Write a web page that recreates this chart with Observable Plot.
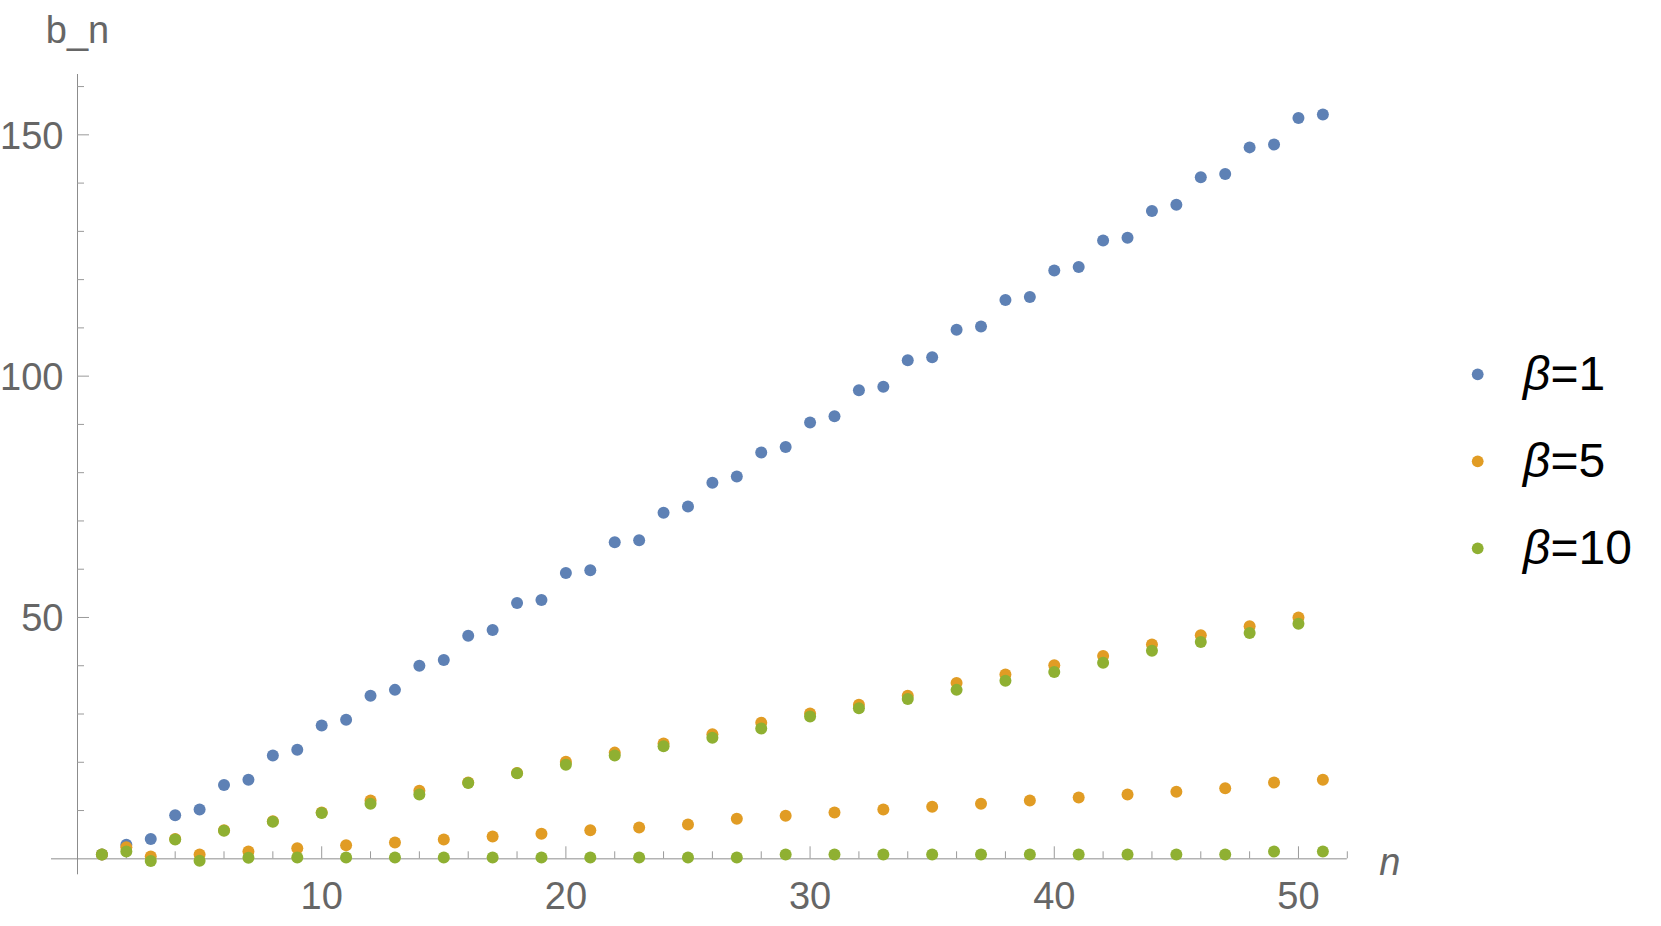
<!DOCTYPE html>
<html>
<head>
<meta charset="utf-8">
<script src="https://cdn.jsdelivr.net/npm/d3@7"></script>
<script src="https://cdn.jsdelivr.net/npm/@observablehq/plot@0.6"></script>
<style>
  html, body { margin: 0; padding: 0; background: #ffffff; }
  #wrap { position: relative; width: 1661px; height: 926px; overflow: hidden; }
  #legend { position: absolute; left: 0; top: 0; pointer-events: none; }
</style>
</head>
<body>
<div id="wrap"></div>
<script>
// ---- data ----
const nValues = d3.range(1, 52);

const seriesLabels = ["β=1", "β=5", "β=10"];
const seriesColors = ["#5E81B5", "#E19C24", "#8FB032"];

const beta1 = [
  0.9, 2.9, 4.1, 9.0, 10.2, 15.3, 16.4, 21.4, 22.6, 27.6,
  28.8, 33.8, 35.0, 40.0, 41.2, 46.2, 47.4, 53.0, 53.6, 59.2,
  59.8, 65.6, 66.0, 71.7, 73.0, 77.9, 79.2, 84.2, 85.3, 90.4,
  91.7, 97.1, 97.8, 103.3, 103.9, 109.6, 110.3, 115.8, 116.4, 121.9,
  122.6, 128.1, 128.7, 134.2, 135.5, 141.2, 141.9, 147.4, 148.0, 153.5,
  154.2
];

const beta5 = [
  0.9, 2.4, 0.5, 4.1, 0.9, 5.9, 1.5, 7.8, 2.2, 9.6,
  2.8, 12.1, 3.4, 14.1, 4.0, 15.8, 4.6, 17.8, 5.2, 20.1,
  5.9, 22.0, 6.5, 23.9, 7.1, 25.8, 8.3, 28.2, 8.9, 30.1,
  9.6, 31.9, 10.2, 33.8, 10.8, 36.4, 11.4, 38.2, 12.1, 40.1,
  12.7, 42.0, 13.3, 44.4, 13.9, 46.3, 14.6, 48.2, 15.8, 50.0,
  16.4
];

const beta10 = [
  0.9, 1.5, -0.45, 4.0, -0.4, 5.8, 0.2, 7.7, 0.25, 9.5,
  0.25, 11.4, 0.25, 13.3, 0.25, 15.7, 0.25, 17.7, 0.25, 19.5,
  0.25, 21.4, 0.25, 23.3, 0.27, 25.1, 0.27, 27.0, 0.9, 29.5,
  0.9, 31.2, 0.9, 33.1, 0.9, 35.0, 0.9, 36.9, 0.9, 38.7,
  0.9, 40.6, 0.9, 43.1, 0.9, 44.9, 0.9, 46.8, 1.5, 48.7,
  1.5
];

const xMajorTicks = [10, 20, 30, 40, 50];
const xMinorTicks = [2, 4, 6, 8, 12, 14, 16, 18, 22, 24, 26, 28, 32, 34, 36, 38, 42, 44, 46, 48, 52];
const yMajorTicks = [50, 100, 150];
const yMinorTicks = [10, 20, 30, 40, 60, 70, 80, 90, 110, 120, 130, 140, 160];

const xLabel = "n";
const yLabel = "b_n";

// ---- table ----
const allSeries = [beta1, beta5, beta10];
const table = [];
allSeries.forEach((vals, si) => {
  vals.forEach((v, i) => table.push({ n: nValues[i], b: v, series: seriesLabels[si] }));
});

// ---- layout ----
const W = 1661, H = 926;
const mL = 77, mR = 314.2, mT = 74, mB = 67.7;
const frameW = W - mL - mR, frameH = H - mT - mB;
const font = "'Liberation Sans', Arial, Helvetica, sans-serif";
const gray = "#666666";
const fs = 38;

const chart = Plot.plot({
  width: W,
  height: H,
  marginLeft: mL,
  marginRight: mR,
  marginTop: mT,
  marginBottom: mB,
  x: { domain: [0, 52], axis: null },
  y: { domain: [0, 162.5], axis: null },
  color: { domain: seriesLabels, range: seriesColors },
  style: { fontFamily: font, background: "#ffffff", overflow: "visible" },
  marks: [
    // axes lines
    Plot.ruleY([0], { stroke: "#b3b3b3", strokeWidth: 1.6, insetLeft: -26 }),
    Plot.ruleX([0], { stroke: "#8c8c8c", strokeWidth: 1, insetBottom: -16 }),
    // x ticks (inward, upward)
    Plot.ruleX(xMinorTicks, { x: d => d, stroke: "#9a9a9a", strokeWidth: 1, insetTop: frameH - 7 }),
    Plot.ruleX(xMajorTicks, { x: d => d, stroke: "#9a9a9a", strokeWidth: 1, insetTop: frameH - 12 }),
    // y ticks (inward, rightward)
    Plot.ruleY(yMinorTicks, { y: d => d, stroke: "#9a9a9a", strokeWidth: 1, insetRight: frameW - 7 }),
    Plot.ruleY(yMajorTicks, { y: d => d, stroke: "#9a9a9a", strokeWidth: 1, insetRight: frameW - 12 }),
    // tick labels
    Plot.text(xMajorTicks, { x: d => d, frameAnchor: "bottom", lineAnchor: "middle", dy: 38.5, fontSize: fs, fill: gray }),
    Plot.text(yMajorTicks, { y: d => d, frameAnchor: "left", lineAnchor: "middle", textAnchor: "end", dx: -14, dy: 1.5, fontSize: fs, fill: gray }),
    // axis labels
    Plot.text([yLabel], { frameAnchor: "top-left", lineAnchor: "middle", textAnchor: "middle", dy: -43.5, fontSize: fs, fill: gray }),
    Plot.text([xLabel], { frameAnchor: "bottom-right", lineAnchor: "middle", textAnchor: "start", dx: 32, dy: 4.5, fontSize: fs, fontStyle: "italic", fill: gray }),
    // data
    Plot.dot(table, { x: "n", y: "b", fill: "series", r: 6 })
  ]
});

const wrap = document.getElementById("wrap");
wrap.appendChild(chart);

// ---- legend ----
const leg = d3.select(wrap).append("svg")
  .attr("id", "legend")
  .attr("width", W).attr("height", H);
const legX = 1477.7, legY0 = 374.3, legStep = 87;
seriesLabels.forEach((lab, i) => {
  const cy = legY0 + i * legStep;
  leg.append("circle")
    .attr("cx", legX).attr("cy", cy).attr("r", 5.9)
    .attr("fill", seriesColors[i]);
  const t = leg.append("text")
    .attr("x", 1523).attr("y", cy + 15.7)
    .attr("font-family", font).attr("font-size", 48).attr("fill", "#000");
  t.append("tspan").attr("font-style", "italic").text(lab.slice(0, 1));
  t.append("tspan").text(lab.slice(1));
});
</script>
</body>
</html>
